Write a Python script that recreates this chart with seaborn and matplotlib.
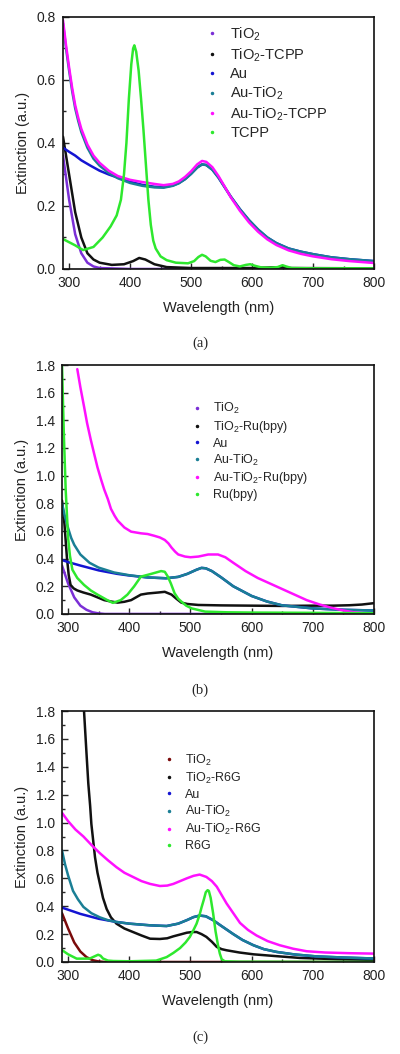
import numpy as np
import pandas as pd
import seaborn as sns
import matplotlib.pyplot as plt
from matplotlib.lines import Line2D
from matplotlib.ticker import MultipleLocator

sns.set_style("ticks")
plt.rcParams['font.family'] = ['Liberation Sans', 'DejaVu Sans']
plt.rcParams['mathtext.fontset'] = 'custom'
plt.rcParams['mathtext.rm'] = 'Liberation Sans'
plt.rcParams['mathtext.it'] = 'Liberation Sans'

# colours shared by the three panels
c_tio2 = "#7b2fd6"
c_black = "#111111"
c_au = "#1414d2"
c_autio2 = "#1a7f95"
c_mag = "#ff10ff"
c_green = "#2ee82e"
c_red = "#7a0a0a"

# ---- panel (a) ----
a_tio2_x = [290, 300, 310, 320, 330, 340, 350, 400, 800]
a_tio2_y = [0.36, 0.22, 0.11, 0.05, 0.02, 0.008, 0.003, 0.0, 0.0]
a_tcpp_ti_x = [290, 300, 310, 320, 330, 340, 350, 370, 390, 405, 415, 425, 440, 460, 500, 600, 650, 660, 800]
a_tcpp_ti_y = [0.42, 0.3, 0.18, 0.1, 0.05, 0.03, 0.02, 0.013, 0.015, 0.025, 0.035, 0.03, 0.015, 0.006, 0.003, 0.003, 0.006, 0.003, 0.002]
a_au_x = [290, 300, 310, 320, 335, 350, 365, 380, 400, 420, 440, 455, 470, 480, 490, 500, 510, 518, 525, 535,
          545, 555, 565, 580, 595, 610, 625, 640, 660, 680, 700, 730, 760, 800]
a_au_y = [0.385, 0.372, 0.36, 0.345, 0.328, 0.312, 0.3, 0.29, 0.277, 0.267, 0.261, 0.26, 0.265, 0.273, 0.285, 0.302,
          0.322, 0.332, 0.33, 0.315, 0.29, 0.26, 0.23, 0.19, 0.155, 0.125, 0.1, 0.082, 0.065, 0.055, 0.047, 0.037, 0.031, 0.025]
a_autio2_x = [290, 295, 300, 305, 310, 315, 320, 330, 340, 350, 365, 380, 400, 420, 440, 455, 470, 480, 490, 500,
              510, 518, 525, 535, 545, 555, 565, 580, 595, 610, 625, 640, 660, 680, 700, 730, 760, 800]
a_autio2_y = [0.78, 0.7, 0.63, 0.565, 0.51, 0.47, 0.435, 0.385, 0.35, 0.328, 0.305, 0.288, 0.273, 0.264, 0.259, 0.258,
              0.264, 0.272, 0.285, 0.302, 0.322, 0.332, 0.33, 0.315, 0.29, 0.26, 0.23, 0.19, 0.155, 0.125, 0.1, 0.082,
              0.065, 0.055, 0.047, 0.037, 0.031, 0.025]
a_mix_x = [290, 295, 300, 305, 310, 315, 320, 330, 340, 350, 365, 380, 400, 420, 440, 455, 470, 480, 490, 500, 510,
           518, 525, 535, 545, 555, 565, 580, 595, 610, 625, 640, 660, 680, 700, 730, 760, 800]
a_mix_y = [0.79, 0.71, 0.64, 0.575, 0.52, 0.48, 0.445, 0.395, 0.36, 0.337, 0.312, 0.295, 0.283, 0.276, 0.27, 0.266,
           0.27, 0.278, 0.292, 0.31, 0.332, 0.343, 0.34, 0.323, 0.295, 0.262, 0.228, 0.185, 0.148, 0.118, 0.094,
           0.076, 0.059, 0.048, 0.04, 0.031, 0.025, 0.019]
a_dye_x = [290, 300, 310, 323, 340, 355, 368, 378, 385, 390, 394, 398, 402, 405, 407, 410, 414, 418, 422, 426, 430,
           434, 438, 442, 450, 460, 475, 495, 505, 512, 518, 524, 532, 540, 548, 555, 562, 570, 580, 590, 597, 605,
           615, 630, 642, 650, 656, 665, 700, 800]
a_dye_y = [0.095, 0.085, 0.075, 0.06, 0.07, 0.1, 0.135, 0.17, 0.22, 0.3, 0.4, 0.54, 0.65, 0.7, 0.71, 0.69, 0.63, 0.54,
           0.44, 0.33, 0.22, 0.14, 0.09, 0.065, 0.04, 0.028, 0.02, 0.018, 0.025, 0.038, 0.045, 0.04, 0.026, 0.022,
           0.029, 0.03, 0.022, 0.012, 0.008, 0.013, 0.015, 0.01, 0.005, 0.004, 0.006, 0.012, 0.008, 0.003, 0.002, 0.002]

# ---- panel (b) ----
b_tio2_x = [290, 300, 310, 320, 330, 340, 350, 360, 800]
b_tio2_y = [0.35, 0.22, 0.12, 0.06, 0.03, 0.012, 0.004, 0.0, 0.0]
b_ti_ru_x = [290, 294, 298, 301, 304, 309, 315, 325, 337, 348, 359, 370, 381, 392, 403, 411, 419, 430, 447, 458,
             469, 477, 485, 495, 513, 550, 600, 650, 700, 733, 760, 780, 800]
b_ti_ru_y = [0.82, 0.65, 0.41, 0.28, 0.21, 0.185, 0.17, 0.155, 0.14, 0.12, 0.1, 0.09, 0.082, 0.088, 0.1, 0.12, 0.14,
             0.148, 0.155, 0.16, 0.14, 0.11, 0.082, 0.072, 0.065, 0.062, 0.06, 0.058, 0.06, 0.06, 0.063, 0.068, 0.078]
b_au_x = [290, 300, 320, 350, 380, 400, 430, 460, 480, 495, 510, 518, 525, 535, 550, 570, 600, 625, 650, 700, 750, 800]
b_au_y = [0.39, 0.375, 0.35, 0.315, 0.29, 0.278, 0.264, 0.258, 0.268, 0.29, 0.32, 0.333, 0.33, 0.31, 0.265, 0.2,
          0.13, 0.09, 0.062, 0.04, 0.03, 0.025]
b_autio2_x = [290, 295, 300, 305, 310, 320, 335, 350, 375, 400, 430, 460, 480, 495, 510, 518, 525, 535, 550, 570,
              600, 625, 650, 700, 750, 800]
b_autio2_y = [0.8, 0.7, 0.62, 0.55, 0.5, 0.43, 0.37, 0.335, 0.3, 0.28, 0.264, 0.258, 0.268, 0.29, 0.32, 0.333, 0.33,
              0.31, 0.265, 0.2, 0.13, 0.09, 0.062, 0.04, 0.03, 0.025]
b_mix_x = [315, 320, 326, 331, 337, 343, 348, 354, 359, 365, 370, 376, 381, 392, 403, 419, 430, 441, 450, 458, 464,
           469, 475, 480, 491, 500, 513, 529, 545, 557, 570, 590, 610, 630, 650, 670, 690, 710, 730, 750, 770, 790, 800]
b_mix_y = [1.77, 1.64, 1.5, 1.38, 1.26, 1.15, 1.06, 0.97, 0.9, 0.83, 0.76, 0.71, 0.675, 0.625, 0.595, 0.583, 0.578,
           0.565, 0.553, 0.535, 0.51, 0.48, 0.45, 0.43, 0.415, 0.41, 0.415, 0.43, 0.43, 0.41, 0.37, 0.31, 0.26,
           0.22, 0.18, 0.14, 0.1, 0.07, 0.045, 0.025, 0.01, 0.003, 0.0]
b_dye_x = [290, 293, 296, 300, 303, 307, 315, 326, 337, 348, 356, 364, 373, 386, 397, 408, 419, 436, 452, 458, 463,
           468, 474, 480, 485, 493, 502, 524, 560, 600, 700, 800]
b_dye_y = [1.8, 1.3, 0.9, 0.55, 0.42, 0.32, 0.26, 0.21, 0.17, 0.14, 0.12, 0.1, 0.08, 0.1, 0.14, 0.2, 0.27, 0.29, 0.31,
           0.305, 0.27, 0.22, 0.15, 0.11, 0.09, 0.06, 0.04, 0.017, 0.012, 0.01, 0.008, 0.005]

# ---- panel (c) ----
c_tio2_x = [290, 300, 310, 320, 330, 340, 350, 360, 800]
c_tio2_y = [0.35, 0.24, 0.14, 0.075, 0.035, 0.013, 0.004, 0.0, 0.0]
c_ti_r6g_x = [326, 330, 333, 336, 338, 341, 344, 348, 352, 357, 363, 370, 379, 392, 406, 420, 434, 450, 462, 472,
              484, 494, 503, 510, 518, 526, 535, 543, 551, 559, 580, 603, 640, 679, 740, 800]
c_ti_r6g_y = [1.8, 1.5, 1.28, 1.12, 0.99, 0.87, 0.75, 0.64, 0.56, 0.46, 0.38, 0.32, 0.275, 0.24, 0.215, 0.19, 0.167,
              0.165, 0.17, 0.184, 0.198, 0.21, 0.215, 0.215, 0.2, 0.18, 0.145, 0.108, 0.092, 0.084, 0.068, 0.055,
              0.042, 0.029, 0.02, 0.015]
c_au_x = [290, 300, 320, 350, 379, 400, 434, 461, 480, 494, 505, 515, 525, 537, 550, 570, 585, 603, 620, 641, 670,
          706, 750, 800]
c_au_y = [0.39, 0.375, 0.345, 0.31, 0.287, 0.275, 0.263, 0.258, 0.275, 0.3, 0.322, 0.333, 0.328, 0.3, 0.26, 0.2,
          0.158, 0.12, 0.092, 0.072, 0.054, 0.04, 0.032, 0.025]
c_autio2_x = [290, 295, 300, 308, 316, 325, 338, 352, 365, 379, 400, 434, 461, 480, 494, 505, 515, 525, 537, 550,
              570, 585, 603, 620, 641, 670, 706, 750, 800]
c_autio2_y = [0.8, 0.7, 0.62, 0.51, 0.45, 0.395, 0.35, 0.32, 0.3, 0.287, 0.275, 0.263, 0.258, 0.275, 0.3, 0.322,
              0.333, 0.328, 0.3, 0.26, 0.2, 0.158, 0.12, 0.092, 0.072, 0.054, 0.04, 0.032, 0.025]
c_mix_x = [290, 300, 312, 325, 338, 352, 365, 379, 392, 406, 420, 434, 450, 462, 472, 483, 494, 505, 515, 526, 535,
           543, 551, 559, 570, 581, 594, 608, 626, 646, 668, 690, 720, 760, 800]
c_mix_y = [1.07, 1.01, 0.95, 0.9, 0.84, 0.78, 0.73, 0.68, 0.64, 0.61, 0.58, 0.56, 0.545, 0.548, 0.56, 0.58, 0.6,
           0.618, 0.627, 0.61, 0.58, 0.54, 0.48, 0.42, 0.35, 0.28, 0.23, 0.19, 0.15, 0.12, 0.095, 0.077, 0.068,
           0.063, 0.06]
c_dye_x = [290, 300, 314, 335, 343, 349, 353, 357, 365, 374, 400, 444, 461, 472, 483, 492, 499, 505, 510, 515, 518,
           522, 525, 528, 530, 533, 537, 541, 545, 548, 551, 556, 580, 800]
c_dye_y = [0.085, 0.055, 0.024, 0.024, 0.04, 0.052, 0.045, 0.025, 0.01, 0.007, 0.005, 0.01, 0.035, 0.065, 0.1,
           0.14, 0.18, 0.23, 0.275, 0.34, 0.39, 0.45, 0.5, 0.515, 0.51, 0.46, 0.35, 0.22, 0.12, 0.06, 0.02, 0.005,
           0.002, 0.0]

panels = [
    dict(tag="(a)", ymax=0.8, pos=[0.1575, 0.7448, 0.7775, 0.2391],
         leg=(0.44, 0.99), fs=10.5, lsp=0.24,
         series=[("TiO$_2$", a_tio2_x, a_tio2_y, c_tio2),
                 ("TiO$_2$-TCPP", a_tcpp_ti_x, a_tcpp_ti_y, c_black),
                 ("Au", a_au_x, a_au_y, c_au),
                 ("Au-TiO$_2$", a_autio2_x, a_autio2_y, c_autio2),
                 ("Au-TiO$_2$-TCPP", a_mix_x, a_mix_y, c_mag),
                 ("TCPP", a_dye_x, a_dye_y, c_green)]),
    dict(tag="(b)", ymax=1.8, pos=[0.155, 0.4175, 0.78, 0.2362],
         leg=(0.40, 0.875), fs=9, lsp=0.22,
         series=[("TiO$_2$", b_tio2_x, b_tio2_y, c_tio2),
                 ("TiO$_2$-Ru(bpy)", b_ti_ru_x, b_ti_ru_y, c_black),
                 ("Au", b_au_x, b_au_y, c_au),
                 ("Au-TiO$_2$", b_autio2_x, b_autio2_y, c_autio2),
                 ("Au-TiO$_2$-Ru(bpy)", b_mix_x, b_mix_y, c_mag),
                 ("Ru(bpy)", b_dye_x, b_dye_y, c_green)]),
    dict(tag="(c)", ymax=1.8, pos=[0.155, 0.0873, 0.78, 0.2381],
         leg=(0.31, 0.855), fs=9, lsp=0.25,
         series=[("TiO$_2$", c_tio2_x, c_tio2_y, c_red),
                 ("TiO$_2$-R6G", c_ti_r6g_x, c_ti_r6g_y, c_black),
                 ("Au", c_au_x, c_au_y, c_au),
                 ("Au-TiO$_2$", c_autio2_x, c_autio2_y, c_autio2),
                 ("Au-TiO$_2$-R6G", c_mix_x, c_mix_y, c_mag),
                 ("R6G", c_dye_x, c_dye_y, c_green)]),
]

fig = plt.figure(figsize=(4.0, 10.54), dpi=100)

for p in panels:
    ax = fig.add_axes(p["pos"])
    frames = [pd.DataFrame({"wl": x, "ext": y, "sample": name}) for name, x, y, _ in p["series"]]
    df = pd.concat(frames, ignore_index=True)
    palette = {name: col for name, _, _, col in p["series"]}
    sns.lineplot(data=df, x="wl", y="ext", hue="sample", palette=palette,
                 estimator=None, sort=True, linewidth=1.8, legend=False, ax=ax)
    ax.set_xlim(290, 800)
    ax.set_ylim(0, p["ymax"])
    ax.xaxis.set_major_locator(MultipleLocator(100))
    ax.xaxis.set_minor_locator(MultipleLocator(50))
    ax.yaxis.set_major_locator(MultipleLocator(0.2))
    ax.yaxis.set_minor_locator(MultipleLocator(0.1))
    ax.tick_params(which="both", direction="in", top=False, right=False, labelsize=10,
                   width=1.0, pad=5, labelcolor="#222222")
    ax.tick_params(which="major", length=4)
    ax.tick_params(which="minor", length=2.5)
    ax.set_xlabel("Wavelength (nm)", fontsize=10.5, labelpad=8, color="#222222")
    ax.set_ylabel("Extinction (a.u.)", fontsize=10.5, labelpad=5, color="#222222")
    for s in ax.spines.values():
        s.set_visible(True)
        s.set_linewidth(1.2)
        s.set_color("#111111")
    handles = [Line2D([], [], linestyle="none", marker=".", markersize=3, color=col)
               for _, _, _, col in p["series"]]
    labels = [name for name, _, _, _ in p["series"]]
    ax.legend(handles, labels, loc="upper left", bbox_to_anchor=p["leg"], frameon=False,
              fontsize=p["fs"], handlelength=0.8, handletextpad=0.9, labelspacing=p["lsp"],
              borderaxespad=0)
    tag_y = {"(a)": 0.674, "(b)": 0.345, "(c)": 0.016}[p["tag"]]
    fig.text(0.5, tag_y, p["tag"], ha="center", va="center", fontsize=10.5,
             family=["Liberation Serif", "DejaVu Serif"])

fig.savefig("out.png", dpi=100)
